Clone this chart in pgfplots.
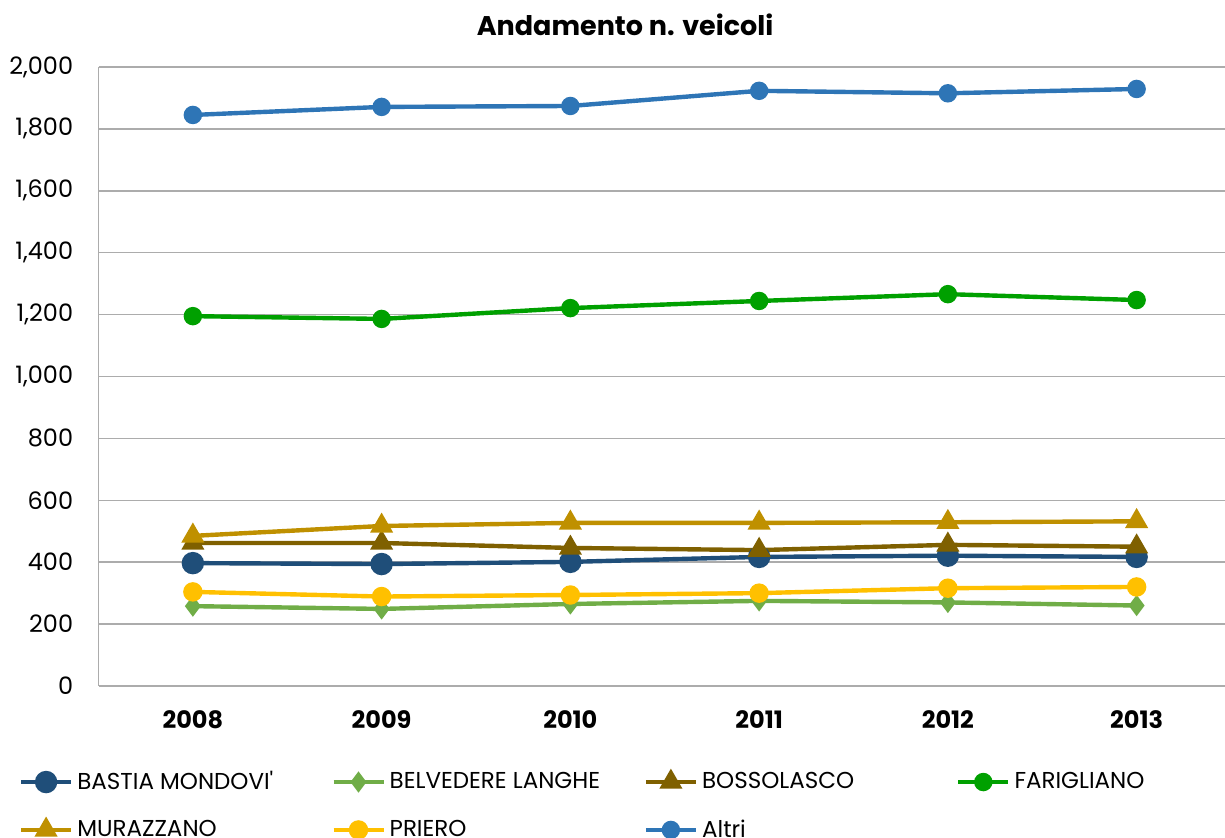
\documentclass[border=0pt]{standalone}
\usepackage{fontspec}
\setmainfont{Poppins}
\usepackage{pgfplots}
\pgfplotsset{compat=1.18}
\definecolor{cBastia}{HTML}{1F4E79}
\definecolor{cBelv}{HTML}{70AD47}
\definecolor{cBoss}{HTML}{7F6000}
\definecolor{cFari}{HTML}{00A000}
\definecolor{cMura}{HTML}{BF9000}
\definecolor{cPrie}{HTML}{FFC000}
\definecolor{cAltri}{HTML}{2E75B6}
\newcommand{\lt}[1]{\makebox[129pt][l]{\hspace{2pt}#1}}
\begin{document}
\begin{tikzpicture}
\path[use as bounding box] (0,0) rectangle (612.5pt,419pt);
\begin{axis}[
  at={(49.25pt,76pt)}, anchor=south west,
  scale only axis, width=566.25pt, height=309.5pt,
  xmin=-0.5, xmax=5.5, ymin=0, ymax=2000,
  xtick={0,1,2,3,4,5},
  xticklabels={2008,2009,2010,2011,2012,2013},
  ytick distance=200,
  major tick length=0pt,
  axis lines*=left,
  axis line style={draw=gray!65, line width=0.75pt, -},
  ymajorgrids, major grid style={draw=gray!65, line width=0.75pt},
  /pgf/number format/.cd, 1000 sep={,}, assume math mode=true, /pgfplots/.cd,
  yticklabel style={font=\fontsize{12}{14}\selectfont, inner sep=0pt, xshift=-12.5pt},
  xticklabel style={font=\fontsize{12}{14}\selectfont\bfseries, inner sep=0pt, yshift=-12pt},
  every axis plot/.append style={line width=2.2pt},
  legend columns=4,
  legend style={at={(rel axis cs:0,0)}, anchor=north west, xshift=-40pt, yshift=-42.5pt,
    draw=none, fill=none, inner sep=0pt, column sep=0pt, row sep=13.5pt,
    font=\fontsize{11.5}{13}\selectfont, nodes={inner sep=0pt, anchor=west}},
  legend cell align=left,
  legend image code/.code={\draw[mark repeat=2,mark phase=2] plot coordinates {(0pt,0pt) (12.5pt,0pt) (25pt,0pt)};},
]
\addplot[color=cBastia, mark=*, mark size=4.5pt] coordinates {(0,397) (1,394) (2,401) (3,417) (4,421) (5,417)};
\addlegendentry{\lt{BASTIA MONDOVI\textquotesingle}}
\addplot[color=cBelv, mark=diamond*, mark size=3.5pt] coordinates {(0,258) (1,249) (2,265) (3,275) (4,270) (5,260)};
\addlegendentry{\lt{BELVEDERE LANGHE}}
\addplot[color=cBoss, mark=triangle*, mark size=4.5pt] coordinates {(0,462) (1,462) (2,446) (3,439) (4,456) (5,450)};
\addlegendentry{\lt{BOSSOLASCO}}
\addplot[color=cFari, mark=*, mark size=3.5pt] coordinates {(0,1195) (1,1186) (2,1221) (3,1244) (4,1266) (5,1247)};
\addlegendentry{\lt{FARIGLIANO}}
\addplot[color=cMura, mark=triangle*, mark size=4.5pt] coordinates {(0,485) (1,517) (2,527) (3,527) (4,529) (5,532)};
\addlegendentry{\lt{MURAZZANO}}
\addplot[color=cPrie, mark=*, mark size=3.75pt] coordinates {(0,304) (1,289) (2,294) (3,300) (4,316) (5,320)};
\addlegendentry{\lt{PRIERO}}
\addplot[color=cAltri, mark=*, mark size=3.5pt] coordinates {(0,1845) (1,1871) (2,1874) (3,1923) (4,1915) (5,1929)};
\addlegendentry{\lt{Altri}}
\end{axis}
\node[font=\fontsize{13.5}{16}\selectfont\bfseries] at (312.5pt,406.5pt) {Andamento n. veicoli};
\end{tikzpicture}
\end{document}
